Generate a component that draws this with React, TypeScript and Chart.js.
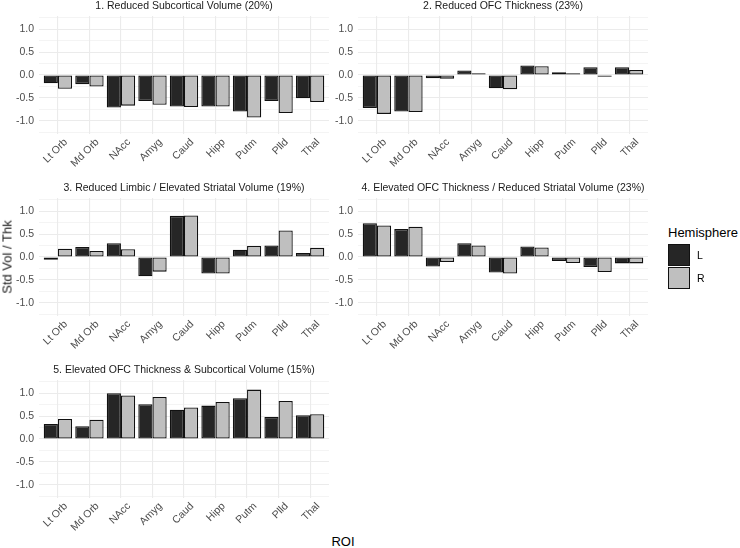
import React, { useEffect, useRef } from 'react';
import { Chart, registerables } from 'chart.js';

Chart.register(...registerables);

// ---------- data ----------
const categories = ['Lt Orb', 'Md Orb', 'NAcc', 'Amyg', 'Caud', 'Hipp', 'Putm', 'Plld', 'Thal'];
const hemispheres = ['L', 'R'];
const panelTitles = [
  '1. Reduced Subcortical Volume (20%)',
  '2. Reduced OFC Thickness (23%)',
  '3. Reduced Limbic / Elevated Striatal Volume (19%)',
  '4. Elevated OFC Thickness / Reduced Striatal Volume (23%)',
  '5. Elevated OFC Thickness & Subcortical Volume (15%)',
];
const p1L = [-0.18, -0.2, -0.71, -0.57, -0.69, -0.69, -0.8, -0.57, -0.51];
const p1R = [-0.3, -0.25, -0.67, -0.65, -0.7, -0.69, -0.93, -0.83, -0.59];
const p2L = [-0.72, -0.8, -0.07, 0.1, -0.29, 0.21, 0.06, 0.17, 0.17];
const p2R = [-0.85, -0.81, -0.08, 0.04, -0.31, 0.19, 0.04, -0.04, 0.11];
const p3L = [-0.06, 0.22, 0.3, -0.42, 0.9, -0.36, 0.16, 0.25, 0.09];
const p3R = [0.18, 0.13, 0.17, -0.32, 0.91, -0.36, 0.24, 0.58, 0.2];
const p4L = [0.74, 0.61, -0.21, 0.3, -0.34, 0.23, -0.09, -0.22, -0.14];
const p4R = [0.69, 0.66, -0.11, 0.25, -0.36, 0.21, -0.13, -0.33, -0.14];
const p5L = [0.33, 0.28, 1.0, 0.76, 0.64, 0.73, 0.89, 0.48, 0.52];
const p5R = [0.44, 0.42, 0.95, 0.92, 0.69, 0.81, 1.08, 0.83, 0.54];
const yTickValues = [-1.25, -1, -0.75, -0.5, -0.25, 0, 0.25, 0.5, 0.75, 1, 1.25];
const yTitle = 'Std Vol / Thk';
const xTitle = 'ROI';
const legendTitle = 'Hemisphere';

// ---------- styles ----------
const FONT = '"Liberation Sans", Arial, Helvetica, sans-serif';
const FILL_L = '#262626';
const FILL_R = '#bfbfbf';
const EDGE = '#111111';
const GRID = '#ebebeb';
const PLOT_W = 290;
const PLOT_H = 118;
const Y_AXIS_W = 39;
const TITLE_H = 16;
const X_AXIS_H = 46;
const RIGHT_PAD = 2;

const panelTitlePlugin = {
  id: 'panelTitle',
  afterDraw(chart: any, _args: any, opts: any) {
    const { ctx, chartArea } = chart;
    ctx.save();
    ctx.font = `10.5px ${FONT}`;
    ctx.fillStyle = '#1a1a1a';
    ctx.textAlign = 'center';
    ctx.textBaseline = 'alphabetic';
    ctx.fillText(opts.text, (chartArea.left + chartArea.right) / 2, chartArea.top - 7);
    ctx.restore();
  },
};

const isMajor = (v: number) => Math.abs(Math.round(v * 2) - v * 2) < 1e-6;

function Panel({ title, left, right, x, y }: { title: string; left: number[]; right: number[]; x: number; y: number }) {
  const ref = useRef<HTMLCanvasElement | null>(null);
  useEffect(() => {
    if (!ref.current) return;
    const chart = new Chart(ref.current, {
      type: 'bar',
      data: {
        datasets: [
          {
            label: hemispheres[0],
            data: left.map((v, i) => ({ x: i, y: v })),
            backgroundColor: FILL_L,
            borderColor: EDGE,
            borderWidth: 1.3,
            borderSkipped: false,
            categoryPercentage: 0.9,
            barPercentage: 1.0,
          },
          {
            label: hemispheres[1],
            data: right.map((v, i) => ({ x: i, y: v })),
            backgroundColor: FILL_R,
            borderColor: EDGE,
            borderWidth: 1.3,
            borderSkipped: false,
            categoryPercentage: 0.9,
            barPercentage: 1.0,
          },
        ],
      },
      options: {
        animation: false,
        responsive: false,
        devicePixelRatio: 1,
        layout: { padding: { top: TITLE_H, right: RIGHT_PAD, left: 0, bottom: 0 } },
        plugins: {
          legend: { display: false },
          tooltip: { enabled: false },
          panelTitle: { text: title },
        } as any,
        scales: {
          x: {
            type: 'linear',
            min: -0.6,
            max: 8.6,
            offset: false,
            afterBuildTicks: (s: any) => {
              s.ticks = categories.map((_, i) => ({ value: i }));
            },
            afterFit: (s: any) => {
              s.height = X_AXIS_H;
            },
            border: { display: false },
            grid: { color: GRID, lineWidth: 1.1, drawTicks: false, offset: false },
            ticks: {
              autoSkip: false,
              maxRotation: 45,
              minRotation: 45,
              padding: 2,
              labelOffset: 8,
              color: '#4d4d4d',
              font: { family: FONT, size: 10.5 },
              callback: (v: any) => categories[Math.round(Number(v))] ?? '',
            },
          },
          y: {
            type: 'linear',
            min: -1.29,
            max: 1.29,
            afterBuildTicks: (s: any) => {
              s.ticks = yTickValues.map((v) => ({ value: v }));
            },
            afterFit: (s: any) => {
              s.width = Y_AXIS_W;
            },
            border: { display: false },
            grid: {
              color: GRID,
              lineWidth: (c: any) => (c.tick && isMajor(c.tick.value) ? 1.1 : 0.55),
              drawTicks: false,
            },
            ticks: {
              autoSkip: false,
              padding: 5,
              color: '#4d4d4d',
              font: { family: FONT, size: 10.5 },
              callback: (v: any) => (isMajor(Number(v)) ? Number(v).toFixed(1) : ''),
            },
          },
        } as any,
      },
      plugins: [panelTitlePlugin],
    } as any);
    return () => chart.destroy();
  }, [title, left, right]);

  const w = Y_AXIS_W + PLOT_W + RIGHT_PAD;
  const h = TITLE_H + PLOT_H + X_AXIS_H;
  return (
    <canvas
      ref={ref}
      width={w}
      height={h}
      style={{ position: 'absolute', left: x - Y_AXIS_W, top: y - TITLE_H, width: w, height: h }}
    />
  );
}

export default function App() {
  const panels = [
    { t: panelTitles[0], l: p1L, r: p1R, x: 39, y: 16 },
    { t: panelTitles[1], l: p2L, r: p2R, x: 358, y: 16 },
    { t: panelTitles[2], l: p3L, r: p3R, x: 39, y: 198 },
    { t: panelTitles[3], l: p4L, r: p4R, x: 358, y: 198 },
    { t: panelTitles[4], l: p5L, r: p5R, x: 39, y: 380 },
  ];
  return (
    <div
      style={{
        position: 'absolute',
        left: 0,
        top: 0,
        width: 740,
        height: 548,
        background: '#ffffff',
        overflow: 'hidden',
        fontFamily: FONT,
      }}
    >
      {panels.map((p, i) => (
        <Panel key={i} title={p.t} left={p.l} right={p.r} x={p.x} y={p.y} />
      ))}
      <div
        style={{
          position: 'absolute',
          left: 7,
          top: 257,
          transform: 'translate(-50%, -50%) rotate(-90deg)',
          fontSize: 13,
          fontWeight: 400,
          color: '#1a1a1a',
          whiteSpace: 'nowrap',
          lineHeight: '15px',
        }}
      >
        {yTitle}
      </div>
      <div
        style={{
          position: 'absolute',
          left: 343,
          top: 541,
          transform: 'translate(-50%, -50%)',
          fontSize: 13,
          color: '#000',
          whiteSpace: 'nowrap',
          lineHeight: '15px',
        }}
      >
        {xTitle}
      </div>
      <div
        style={{
          position: 'absolute',
          left: 668,
          top: 225,
          fontSize: 13,
          color: '#000',
          whiteSpace: 'nowrap',
          lineHeight: '15px',
        }}
      >
        {legendTitle}
      </div>
      {hemispheres.map((h, i) => (
        <React.Fragment key={h}>
          <div
            style={{
              position: 'absolute',
              left: 668,
              top: 244 + i * 23,
              width: 22,
              height: 22,
              boxSizing: 'border-box',
              border: `1.3px solid ${EDGE}`,
              background: i === 0 ? FILL_L : FILL_R,
            }}
          />
          <div
            style={{
              position: 'absolute',
              left: 697,
              top: 249 + i * 23,
              fontSize: 10.5,
              color: '#000',
              lineHeight: '12px',
            }}
          >
            {h}
          </div>
        </React.Fragment>
      ))}
    </div>
  );
}
